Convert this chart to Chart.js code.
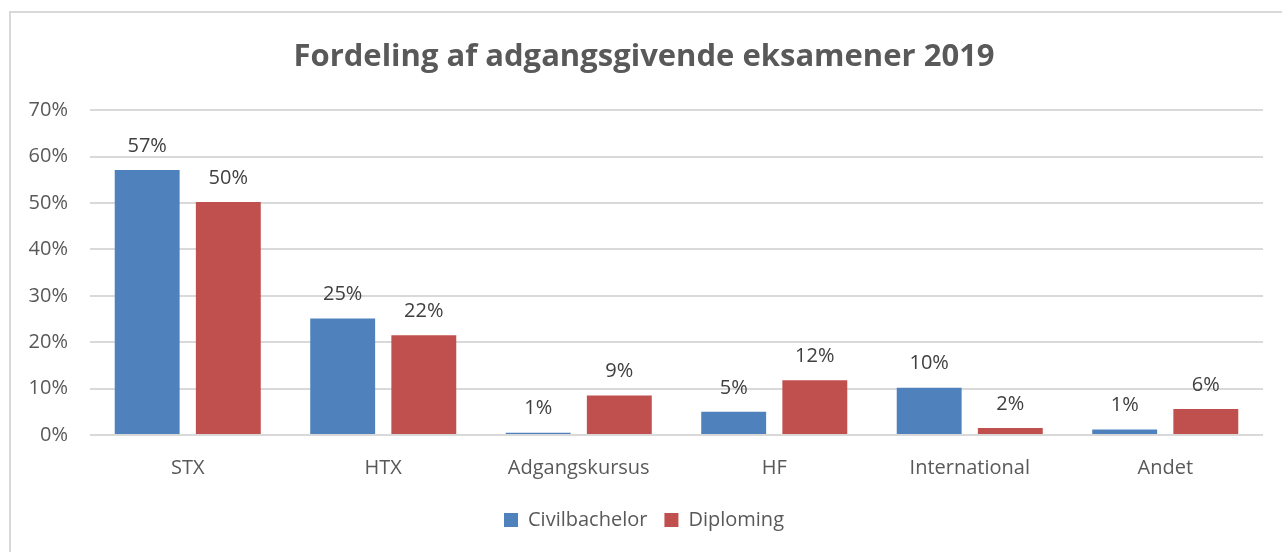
<!DOCTYPE html>
<html lang="da">
<head>
    <meta charset="UTF-8">
    <title>Fordeling af adgangsgivende eksamener 2019</title>
    <script src="https://cdn.jsdelivr.net/npm/chart.js"></script>
    <style>
        body { margin: 0; background: #fff; overflow: hidden; }
        #frame { position: absolute; left: 9px; top: 11px; width: 1300px; height: 600px; border: 2px solid #d9d9d9; box-sizing: border-box; }
        #wrap { position: absolute; left: 0; top: 0; width: 1282px; height: 552px; }
    </style>
</head>
<body>
    <div id="frame"></div>
    <div id="wrap"><canvas id="chart"></canvas></div>
    <script>
        // data (percent)
        const categories = ['STX', 'HTX', 'Adgangskursus', 'HF', 'International', 'Andet'];
        const civilbachelor = [57.1, 25.1, 0.5, 5.0, 10.2, 1.2];
        const diploming = [50.2, 21.5, 8.5, 11.8, 1.5, 5.6];
        const yTicks = [0, 10, 20, 30, 40, 50, 60, 70];

        const font = "'Open Sans', sans-serif";

        // data labels above each bar
        const barLabels = {
            id: 'barLabels',
            afterDatasetsDraw(chart) {
                const ctx = chart.ctx;
                ctx.save();
                ctx.font = '20px ' + font;
                ctx.fillStyle = '#404040';
                ctx.textAlign = 'center';
                ctx.textBaseline = 'bottom';
                chart.data.datasets.forEach((ds, i) => {
                    chart.getDatasetMeta(i).data.forEach((bar, j) => {
                        ctx.fillText(Math.round(ds.data[j]) + '%', bar.x, bar.y - 14);
                    });
                });
                ctx.restore();
            }
        };

        new Chart(document.getElementById('chart'), {
            type: 'bar',
            data: {
                labels: categories,
                datasets: [
                    { label: 'Civilbachelor', data: civilbachelor, backgroundColor: '#4f81bd' },
                    { label: 'Diploming', data: diploming, backgroundColor: '#c0504d' }
                ]
            },
            options: {
                responsive: true,
                maintainAspectRatio: false,
                animation: false,
                categoryPercentage: 0.83,
                barPercentage: 0.8,
                layout: { padding: { left: 25, right: 19, top: 39, bottom: 12 } },
                plugins: {
                    title: {
                        display: true,
                        text: 'Fordeling af adgangsgivende eksamener 2019',
                        color: '#595959',
                        font: { family: font, size: 31, weight: 'bold' },
                        padding: { top: 0, bottom: 34 }
                    },
                    legend: {
                        position: 'bottom',
                        labels: {
                            color: '#595959',
                            font: { family: font, size: 20 },
                            boxWidth: 14,
                            boxHeight: 14,
                            padding: 17
                        }
                    },
                    tooltip: { enabled: false }
                },
                scales: {
                    x: {
                        grid: { display: false },
                        border: { display: false },
                        ticks: { color: '#595959', font: { family: font, size: 20 }, padding: 13 }
                    },
                    y: {
                        min: 0,
                        max: 70,
                        afterBuildTicks: axis => { axis.ticks = yTicks.map(v => ({ value: v })); },
                        afterFit: axis => { axis.width = 65; },
                        grid: { color: '#d9d9d9', lineWidth: 2, drawTicks: false },
                        border: { display: false },
                        ticks: { color: '#595959', font: { family: font, size: 20 }, padding: 22, callback: v => v + '%' }
                    }
                }
            },
            plugins: [barLabels]
        });
    </script>
</body>
</html>
